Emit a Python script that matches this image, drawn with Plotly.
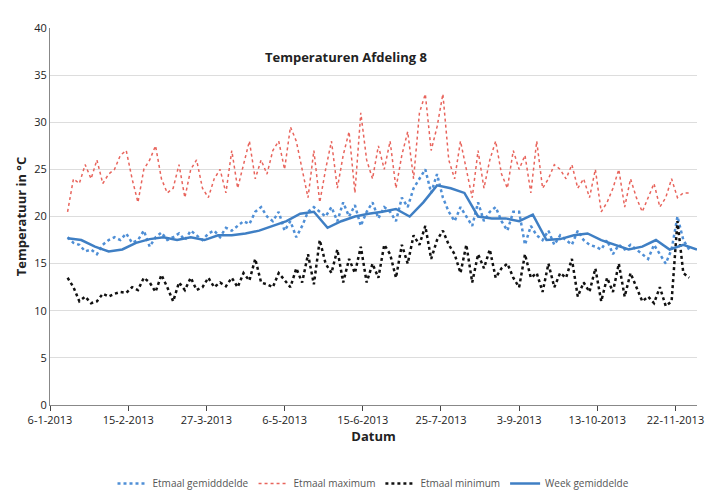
import plotly.graph_objects as go
import pandas as pd

daily_dates = pd.date_range("2013-01-15", periods=107, freq="3D")
week_dates = pd.date_range("2013-01-15", periods=47, freq="7D")

etmaal_max = [20.5,24,23.5,25.5,24,26,23.5,24.5,25,26.5,27,
 24,21.5,25,26,27.5,24,22.5,23,25.5,22,25,
 26,23,22,24,25,22.5,27,23,25.5,28,24,
 26,24.5,27,28,25,29.5,28,25,22,27,21.5,
 25,28,23,26.5,29,22.5,31,26,24,27.5,25,
 28,23,26.5,29,24,31,33,27,29.5,33,26,
 24,28,25,22,27,23,26,28,24.5,23,27,
 25,26.5,22.5,28,23,24,25.5,25,24,25.5,23,
 24,22,25,20.5,21.5,23,25,21,24,22,20.5,
 22,23.5,21,22,24,22,22.5,22.5]
etmaal_min = [13.5,12.5,11,11.5,10.8,11,11.8,11.5,11.8,12,11.9,
 12.5,12.2,13.5,13,12,13.8,12.5,11,13,12.2,13.5,
 12.2,12.5,13.5,12.5,13,12.6,13.5,12.5,14,13.2,15.5,
 13,12.8,12.5,14,13.2,12.5,14.5,13,16,12.8,17.5,
 15,14,16.5,13,15.5,14,16.8,13,15,13.5,17,
 16,13.5,17,15,18,17,19,15.5,17.5,18.5,17,
 16,14,17,13,16,14.5,16.5,13.5,14.5,15,13.5,
 12.5,16,13.5,14,12,15,12.5,14,13.5,15.5,11.5,
 13,12,14.5,11,13.5,12,15,11.5,14,12.5,11,
 11.5,10.8,12.5,10.5,11,19.5,14,13.5]
etmaal_gem = [17.8,17.2,17,16.3,16.5,16,17,17.5,17.8,17.5,18.2,
 17.2,17.5,18.5,16.8,17.8,18.3,17.5,17.8,18.2,17.5,18.5,
 18,17.5,18.2,18.5,17.8,18.8,18.5,19,19.5,19.2,20.5,
 21,20,19.5,20.5,18.5,19.5,17.8,19,20.5,21,20.5,
 20,21,19.5,21.5,20,21.2,19,20.5,21.5,19.8,21,
 20.5,19.5,22,21,23,24,25,22.5,24.5,22,20.5,
 19.5,21,20,19,21.5,19.5,20.5,21,19.5,18.5,20.5,
 20.5,17,19,18,17.5,18.5,17,18,17.5,17,18.5,
 17.5,17,16.8,16.5,17.5,16,17,16.5,17,16.5,16,
 15.5,17,16,15,16.5,20,17.5,16.5]
week_gem = [17.7,17.5,16.8,16.3,16.5,17.2,17.6,17.8,17.5,17.8,17.5,18.0,
 18.0,18.2,18.5,19.0,19.5,20.3,20.5,18.8,19.5,20.0,20.3,20.5,
 20.8,20.0,21.5,23.3,23.0,22.5,20.0,19.8,19.8,19.5,20.2,
 17.5,17.6,18.0,18.2,17.5,17.0,16.5,16.8,17.5,16.5,17.0,16.5]

tick_vals = pd.date_range("2013-01-06", periods=9, freq="40D")
tick_text = [f"{d.day}-{d.month}-{d.year}" for d in tick_vals]

fig = go.Figure()
fig.add_trace(go.Scatter(x=daily_dates, y=etmaal_gem, name="Etmaal gemidddelde", mode="lines",
                         line=dict(color="#4f8fd6", dash="dot", width=2.5)))
fig.add_trace(go.Scatter(x=daily_dates, y=etmaal_max, name="Etmaal maximum", mode="lines",
                         line=dict(color="#e8645c", dash="dot", width=1.5)))
fig.add_trace(go.Scatter(x=daily_dates, y=etmaal_min, name="Etmaal minimum", mode="lines",
                         line=dict(color="#111111", dash="dot", width=2.5)))
fig.add_trace(go.Scatter(x=week_dates, y=week_gem, name="Week gemiddelde", mode="lines",
                         line=dict(color="#3f7fc4", width=2.5)))
fig.update_layout(
    width=719, height=502, paper_bgcolor="white", plot_bgcolor="white",
    margin=dict(l=42, r=30, t=16, b=79),
    font=dict(family="Open Sans, sans-serif", size=11, color="#222"),
    title=dict(text="<b>Temperaturen Afdeling 8</b>", x=0.47, y=0.91, font=dict(size=13)),
    legend=dict(orientation="h", x=0.5, xanchor="center", y=-0.17, font=dict(size=10, color="#555")),
    xaxis=dict(range=["2013-01-06", "2013-12-03"], tickvals=tick_vals, ticktext=tick_text,
               showgrid=False, showline=True, linecolor="#888", ticks="outside",
               title=dict(text="<b>Datum</b>", standoff=2)),
    yaxis=dict(range=[0, 40], dtick=5, showgrid=True, gridcolor="#ddd", showline=True,
               linecolor="#888", title=dict(text="<b>Temperatuur in °C</b>", standoff=4)),
)
fig.write_html("out.html")
